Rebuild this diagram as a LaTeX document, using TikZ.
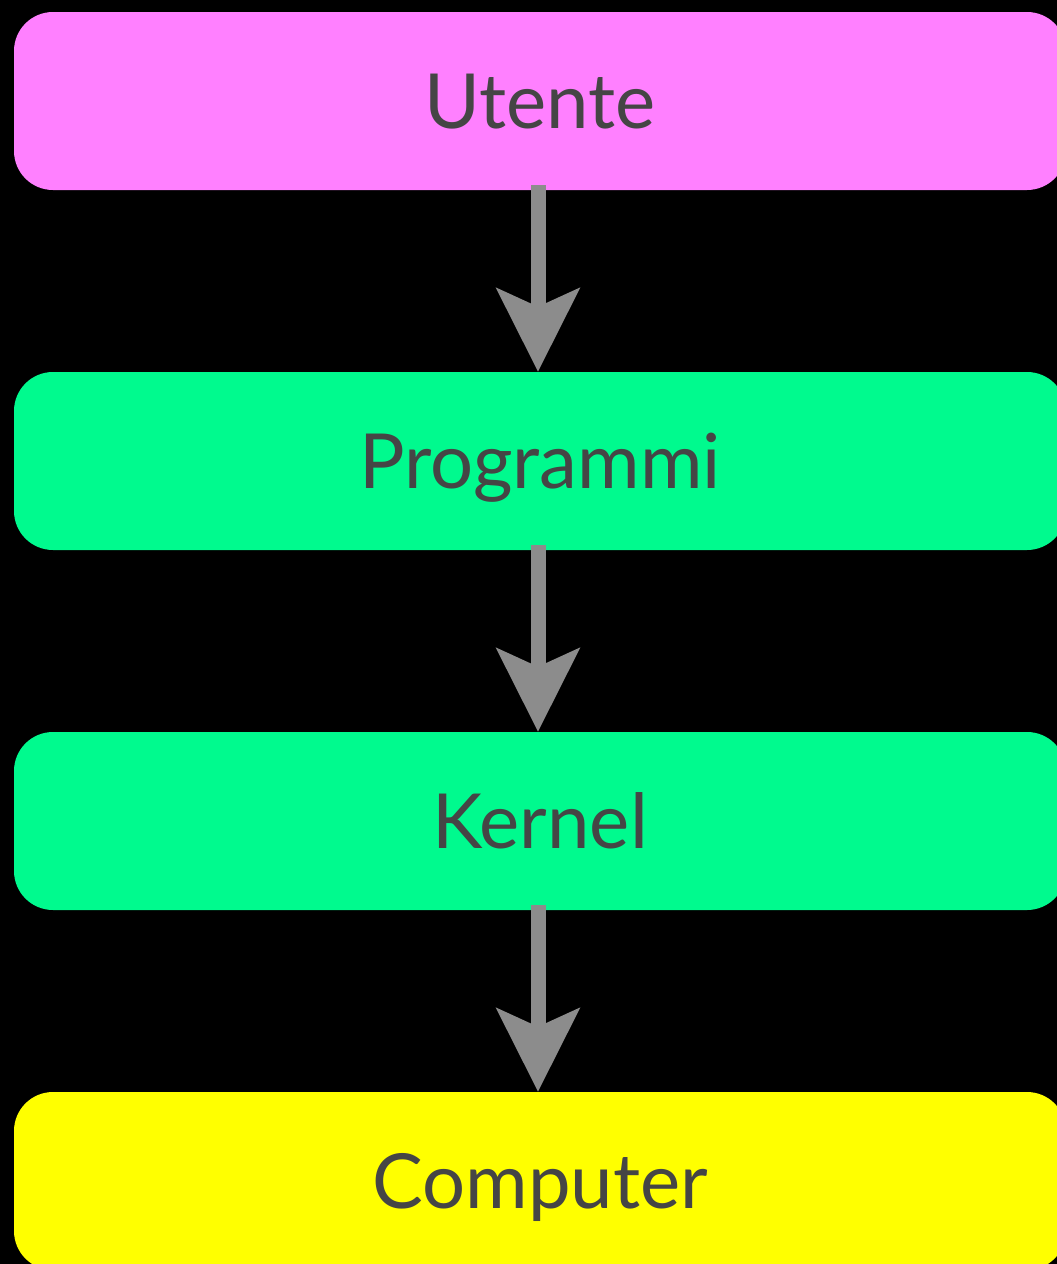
\documentclass[tikz,border=0pt]{standalone}
\usepackage{fontspec}
\setmainfont{Lato}
\usetikzlibrary{arrows.meta}
\definecolor{cpink}{HTML}{FF80FF}
\definecolor{cgreen}{HTML}{00FA8E}
\definecolor{cyellow}{HTML}{FFFF00}
\definecolor{ctext}{HTML}{454545}
\definecolor{carrow}{HTML}{8C8C8C}
\begin{document}
\begin{tikzpicture}[x=1pt,y=1pt,
  layer/.style={rectangle, rounded corners=39pt, minimum width=1052pt, minimum height=178pt, inner sep=0pt, draw=none},
  lbl/.style={anchor=base, inner sep=0pt, text=ctext, font=\fontsize{76}{80}\selectfont},
  flow/.style={draw=carrow, line width=15pt, -{Stealth[length=83pt, width=82pt, inset=18pt]}}]
\fill[black] (0,0) rectangle (1057,-1264);
\useasboundingbox (0,0) rectangle (1057,-1264);
\begin{scope}
\clip (0,0) rectangle (1057,-1264);
\node[layer, fill=cpink] (u) at (540,-101) {};
\node[layer, fill=cgreen] (p) at (540,-461) {};
\node[layer, fill=cgreen] (k) at (540,-821) {};
\node[layer, fill=cyellow] (c) at (540,-1181) {};
\node[lbl] (tu) at (540,-128) {Utente};
\node[lbl] (tp) at (540,-488) {Programmi};
\node[lbl] (tk) at (540,-848) {Kernel};
\node[lbl] (tc) at (540,-1208) {Computer};
\draw[flow] ([xshift=-2pt,yshift=5pt]u.south) -- ([xshift=-2pt]p.north);
\draw[flow] ([xshift=-2pt,yshift=5pt]p.south) -- ([xshift=-2pt]k.north);
\draw[flow] ([xshift=-2pt,yshift=5pt]k.south) -- ([xshift=-2pt]c.north);
\end{scope}
\end{tikzpicture}
\end{document}
